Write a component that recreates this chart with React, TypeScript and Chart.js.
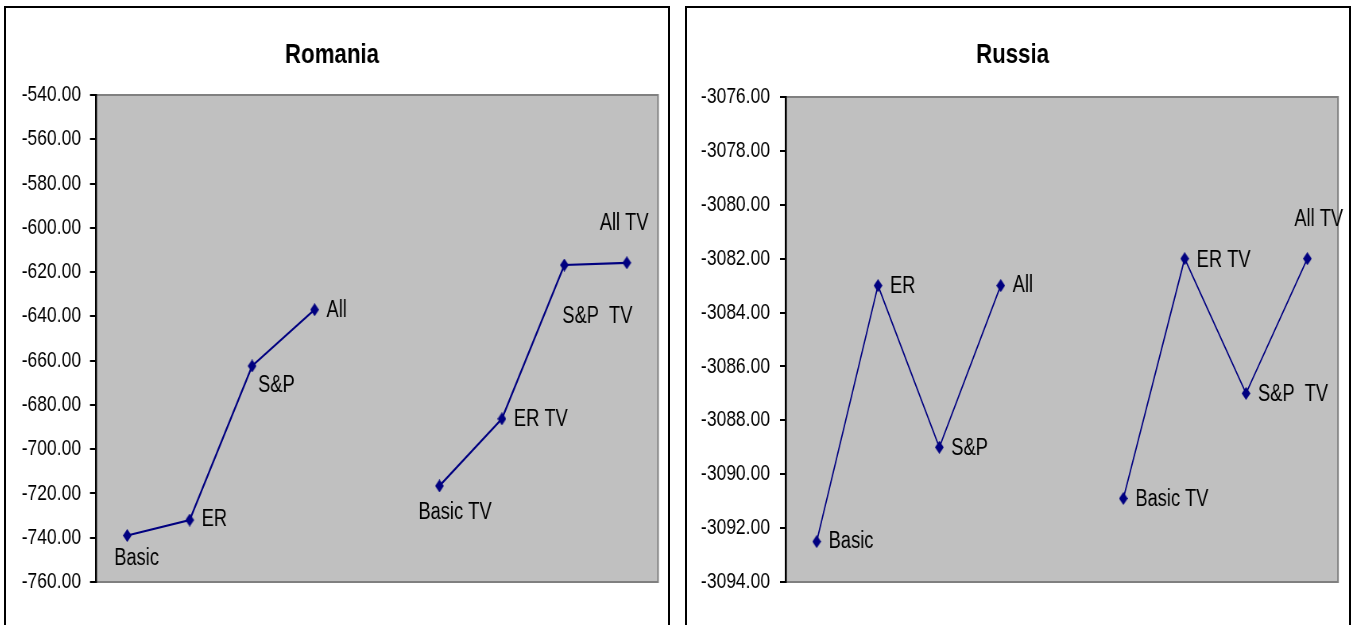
import React, { useEffect, useRef } from "react";
import { Chart, registerables } from "chart.js";

Chart.register(...registerables);

// Scenario names along the hidden x axis (slot 4 is an empty spacer between the two groups)
const categories = ["Basic", "ER", "S&P", "All", "", "Basic TV", "ER TV", "S&P  TV", "All TV"];

// Romania series
const romaniaValues: (number | null)[] = [-739.0, -732.0, -662.4, -637.0, null, -716.6, -686.3, -616.8, -615.8];
const romaniaTicks = { min: -760, max: -540, step: 20 };

// Russia series
const russiaValues: (number | null)[] = [-3092.5, -3083.0, -3089.0, -3083.0, null, -3090.9, -3082.0, -3087.0, -3082.0];
const russiaTicks = { min: -3094, max: -3076, step: 2 };

// Point-label placement (on-screen pixel offsets from each marker)
const romaniaLabelOffsets: ([number, number] | null)[] = [
  [-13, 23], [12, 0], [6, 20], [12, 1], null, [-21, 27], [12, 1], [-2, 52], [-27, -39],
];
const russiaLabelOffsets: ([number, number] | null)[] = [
  [12, 0], [12, 1], [12, 1], [12, 0], null, [12, 1], [12, 2], [12, 1], [-13, -39],
];

const FONT = '"Liberation Sans", Arial, sans-serif';
const NAVY = "#000080";

// The chart is rendered wider than it is shown and squeezed horizontally,
// which gives the narrow lettering and tall diamond markers.
const DISPLAY_W = 662;
const SQUEEZE = 0.795;
const CANVAS_W = Math.round(DISPLAY_W / SQUEEZE);
const K = DISPLAY_W / CANVAS_W;
const CANVAS_H = 617;
const AREA_BOTTOM = 574;

function makeDiamond(): HTMLCanvasElement {
  const c = document.createElement("canvas");
  c.width = 11;
  c.height = 13;
  const ctx = c.getContext("2d")!;
  ctx.fillStyle = NAVY;
  ctx.beginPath();
  ctx.moveTo(5.5, 0);
  ctx.lineTo(11, 6.5);
  ctx.lineTo(5.5, 13);
  ctx.lineTo(0, 6.5);
  ctx.closePath();
  ctx.fill();
  return c;
}

const plotBackground = {
  id: "plotBackground",
  beforeDraw(chart: any) {
    const { ctx, chartArea } = chart;
    const { left, top, right, bottom } = chartArea;
    ctx.save();
    ctx.fillStyle = "#C0C0C0";
    ctx.fillRect(left, top, right - left, bottom - top);
    ctx.strokeStyle = "#808080";
    ctx.lineWidth = 2;
    ctx.strokeRect(left, top, right - left, bottom - top);
    ctx.restore();
  },
};

const pointLabels = {
  id: "pointLabels",
  afterDatasetsDraw(chart: any, _args: any, opts: any) {
    const { ctx } = chart;
    const meta = chart.getDatasetMeta(0);
    const values = chart.data.datasets[0].data;
    const offsets = opts.offsets as ([number, number] | null)[];
    ctx.save();
    ctx.font = `23px ${FONT}`;
    ctx.fillStyle = "#000";
    ctx.textAlign = "left";
    ctx.textBaseline = "middle";
    meta.data.forEach((el: any, i: number) => {
      if (values[i] === null || !offsets[i]) return;
      const [dx, dy] = offsets[i]!;
      ctx.fillText(chart.data.labels[i], el.x + dx / K, el.y + dy);
    });
    ctx.restore();
  },
};

type PanelProps = {
  left: number;
  title: string;
  values: (number | null)[];
  ticks: { min: number; max: number; step: number };
  offsets: ([number, number] | null)[];
  axisWidth: number; // on-screen px
  labelGap: number; // on-screen px between label and tick mark
  areaTop: number;
  areaRightPad: number; // on-screen px
  lineWidth: number;
};

function Panel(p: PanelProps) {
  const ref = useRef<HTMLCanvasElement>(null);

  useEffect(() => {
    const titleSize = 28;
    const titleTop = 30;
    const tickLen = 6 / K;
    const chart = new Chart(ref.current!, {
      type: "line",
      data: {
        labels: categories,
        datasets: [
          {
            data: p.values,
            borderColor: NAVY,
            borderWidth: p.lineWidth,
            pointStyle: makeDiamond(),
            pointRadius: 5,
            spanGaps: false,
            tension: 0,
          },
        ],
      },
      options: {
        responsive: false,
        animation: false,
        layout: {
          padding: { left: 0, right: p.areaRightPad / K, top: 0, bottom: CANVAS_H - AREA_BOTTOM },
        },
        plugins: {
          legend: { display: false },
          tooltip: { enabled: false },
          title: {
            display: true,
            text: p.title,
            color: "#000",
            font: { family: FONT, size: titleSize, weight: "bold", lineHeight: 1.2 },
            padding: { top: titleTop, bottom: p.areaTop - titleTop - titleSize * 1.2 },
          },
          pointLabels: { offsets: p.offsets },
        } as any,
        scales: {
          x: { type: "category", offset: true, display: false },
          y: {
            min: p.ticks.min,
            max: p.ticks.max,
            afterFit(scale: any) {
              scale.width = p.axisWidth / K;
            },
            ticks: {
              stepSize: p.ticks.step,
              color: "#000",
              padding: p.labelGap / K,
              font: { family: FONT, size: 22 },
              callback: (v: any) => Number(v).toFixed(2),
            },
            grid: { drawOnChartArea: false, drawTicks: true, tickLength: tickLen, color: "#000", lineWidth: 2 },
            border: { display: true, color: "#000", width: 2.5 },
          },
        },
      },
      plugins: [plotBackground, pointLabels],
    });
    return () => chart.destroy();
  }, []);

  return (
    <div
      style={{
        position: "absolute",
        left: p.left,
        top: 6,
        width: DISPLAY_W,
        height: 660,
        border: "2px solid #000",
        background: "#fff",
      }}
    >
      <canvas
        ref={ref}
        width={CANVAS_W}
        height={CANVAS_H}
        style={{ display: "block", width: DISPLAY_W, height: CANVAS_H }}
      />
    </div>
  );
}

export default function App() {
  return (
    <div style={{ position: "fixed", inset: 0, overflow: "hidden", background: "#fff" }}>
      <Panel
        left={4}
        title="Romania"
        values={romaniaValues}
        ticks={romaniaTicks}
        offsets={romaniaLabelOffsets}
        axisWidth={90}
        labelGap={9}
        areaTop={87}
        areaRightPad={10}
        lineWidth={2.2}
      />
      <Panel
        left={685}
        title="Russia"
        values={russiaValues}
        ticks={russiaTicks}
        offsets={russiaLabelOffsets}
        axisWidth={99}
        labelGap={10}
        areaTop={89}
        areaRightPad={11}
        lineWidth={1.7}
      />
    </div>
  );
}
